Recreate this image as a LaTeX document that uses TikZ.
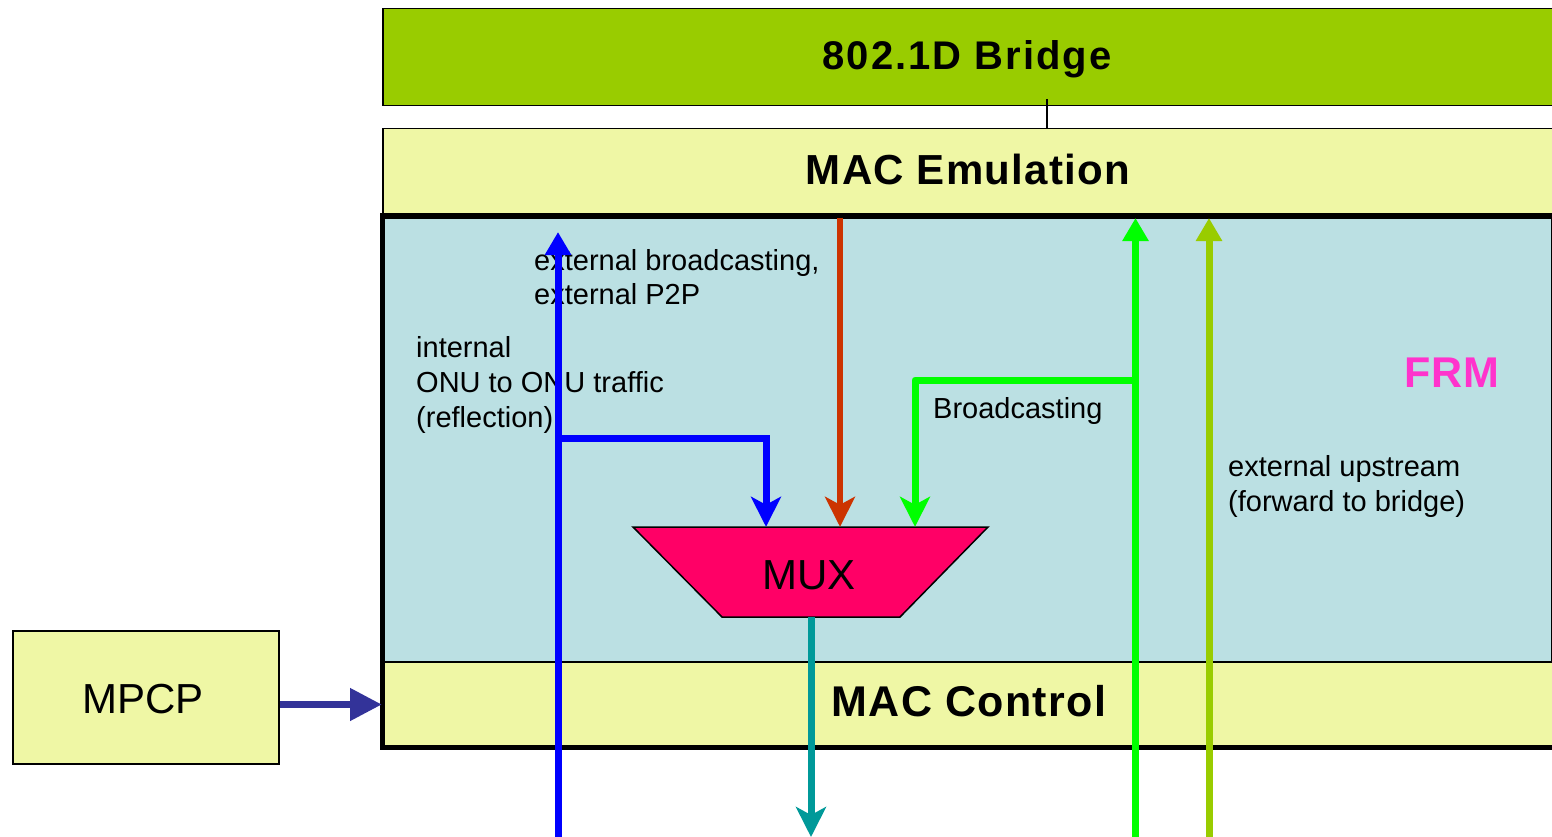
\documentclass[tikz,border=0pt]{standalone}
\usepackage{fontspec}
\setmainfont{Liberation Sans}
\usetikzlibrary{arrows.meta}
\definecolor{bridgegreen}{HTML}{99CC00}
\definecolor{layeryellow}{HTML}{EFF7A5}
\definecolor{frmblue}{HTML}{BBE0E3}
\definecolor{muxred}{HTML}{FF0066}
\definecolor{arrred}{HTML}{CC3300}
\definecolor{arrgreen}{HTML}{00FF00}
\definecolor{arrolive}{HTML}{99CC00}
\definecolor{arrteal}{HTML}{009999}
\definecolor{arrblue}{HTML}{0000FF}
\definecolor{mpcpblue}{HTML}{333399}
\definecolor{frmpink}{HTML}{FF33CC}
\tikzset{
  layerbox/.style={draw=black, line width=1.5pt, anchor=north west, inner sep=0pt, minimum width=1190pt},
  titletext/.style={anchor=base, font=\fontsize{42}{50}\selectfont\bfseries\addfontfeature{LetterSpace=3}},
  bigtext/.style={anchor=base, font=\fontsize{42}{50}\selectfont},
  labeltext/.style={anchor=base west, inner sep=0pt, font=\fontsize{29}{35}\selectfont},
  flow/.style={line width=7pt, line join=round},
  uptip/.style={-{Triangle[length=23pt,width=25pt]}},
  downtip/.style={-{Stealth[length=30pt,width=30pt,inset=8pt]}},
}
\begin{document}
\begin{tikzpicture}[x=1pt,y=-1pt]
\useasboundingbox (0,0) rectangle (1552,837);
\clip (0,0) rectangle (1552,837);

% layers
\node[layerbox, fill=bridgegreen, minimum height=97pt] (bridge) at (382,8) {};
\node[layerbox, fill=layeryellow, minimum height=88pt] (emu) at (382,128) {};
\node[layerbox, fill=frmblue, minimum width=1169pt, minimum height=445pt] (frm) at (382,216) {};
\node[layerbox, fill=layeryellow, minimum height=86pt] (ctrl) at (382,661) {};
\draw[line width=5pt] (382,216) rectangle (1580,747);

\coordinate (lk) at (1047,99);
\draw[line width=1.5pt] (lk) -- (lk |- emu.north);

\node[titletext, font=\fontsize{40}{48}\selectfont\bfseries\addfontfeature{LetterSpace=5}] (bridgetxt) at (967,70) {802.1D Bridge};
\node[titletext] (emutxt) at (968,185) {MAC Emulation};
\node[titletext, font=\fontsize{43}{50}\selectfont\bfseries\addfontfeature{LetterSpace=3}] (ctrltxt) at (969,716) {MAC Control};
\node[titletext, text=frmpink, font=\fontsize{43}{50}\selectfont\bfseries\addfontfeature{LetterSpace=2}] (frmtxt) at (1452,387) {FRM};

% MPCP
\node[draw=black, line width=2pt, fill=layeryellow, minimum width=266pt, minimum height=133pt, inner sep=0pt] (mpcp) at (146,697.5) {};
\node[bigtext] (mpcptxt) at (143,713) {MPCP};

% MUX
\draw[fill=muxred, draw=black, line width=1.5pt] (633,527) -- (988,527) -- (900,617) -- (722,617) -- cycle;
\node[minimum width=178pt, minimum height=90pt, inner sep=0pt] (mux) at (811,572) {};
\node[bigtext] (muxtxt) at (809,589) {MUX};

% labels
\node[labeltext] (l1a) at (534,270) {external broadcasting,};
\node[labeltext] (l1b) at (534,304) {external P2P};
\node[labeltext] (l2a) at (416,357) {internal};
\node[labeltext] (l2b) at (416,392) {ONU to ONU traffic};
\node[labeltext] (l2c) at (416,427) {(reflection)};
\node[labeltext] (l3) at (933,418) {Broadcasting};
\node[labeltext] (l4a) at (1228,476) {external upstream};
\node[labeltext] (l4b) at (1228,511) {(forward to bridge)};

% arrows
\coordinate (blueBot) at (558,840);
\coordinate (blueTop) at (558,232);
\coordinate (blueJ) at (558,438);
\coordinate (blueK) at (766,438);
\draw[flow, arrblue, uptip] (blueBot) -- (blueTop);
\draw[flow, arrblue, downtip, line join=miter] (blueJ) -- (blueK) -- (blueK |- mux.north);

\coordinate (redX) at (840,0);
\draw[flow, line width=6pt, arrred, downtip] (redX |- emu.south) -- (redX |- mux.north);

\coordinate (tealEnd) at (811,837);
\draw[flow, arrteal, downtip] (mux.south) -- (tealEnd);

\coordinate (grBot) at (1135.5,840);
\coordinate (grTop) at (1135.5,218);
\coordinate (grJ) at (1135.5,380);
\coordinate (grK) at (915,380);
\draw[flow, arrgreen, uptip] (grBot) -- (grTop);
\draw[flow, arrgreen, downtip] (grJ) -- (grK) -- (grK |- mux.north);

\coordinate (olBot) at (1209,840);
\coordinate (olTop) at (1209,218);
\draw[flow, arrolive, uptip] (olBot) -- (olTop);

\draw[line width=7.5pt, mpcpblue, -{Triangle[length=32pt,width=31pt]}] ([yshift=-7pt]mpcp.east) -- ([yshift=-7pt]mpcp.east -| ctrl.west);
\end{tikzpicture}
\end{document}
